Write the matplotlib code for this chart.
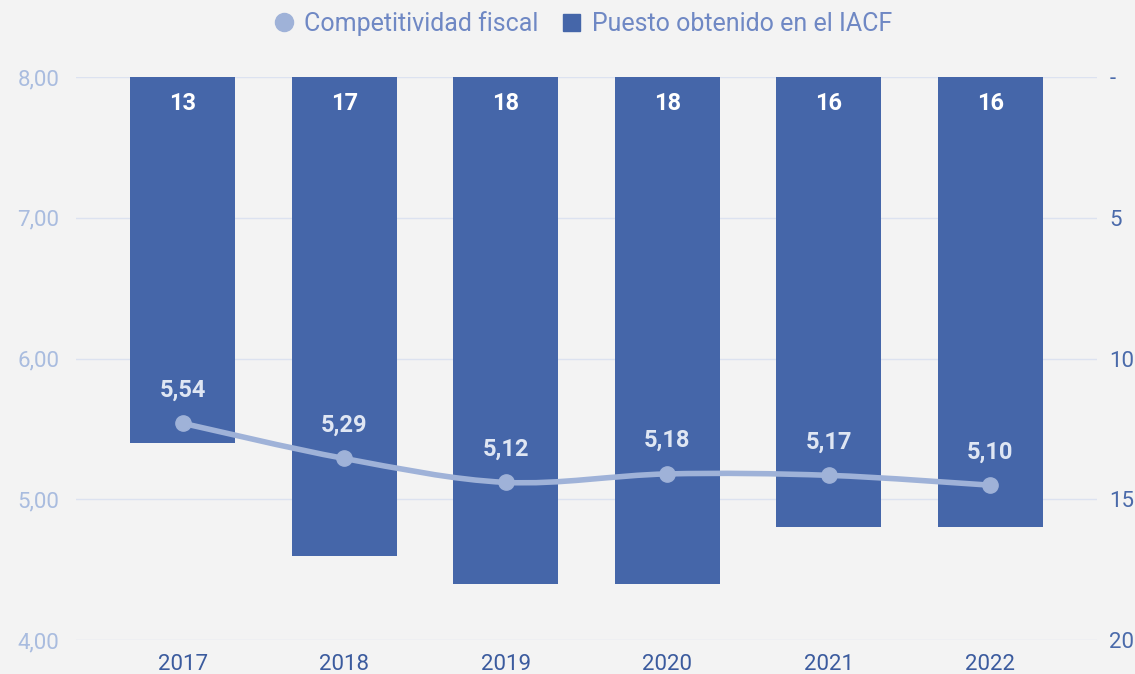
import numpy as np
import matplotlib.pyplot as plt
from matplotlib.path import Path
from matplotlib.patches import PathPatch
from matplotlib.lines import Line2D
from matplotlib.patches import Patch

# --- datos ---
years = ['2017', '2018', '2019', '2020', '2021', '2022']
competitividad = [5.54, 5.29, 5.12, 5.18, 5.17, 5.10]
puesto = [13, 17, 18, 18, 16, 16]
right_ticks = [0, 5, 10, 15, 20]
right_labels = ['-', '5', '10', '15', '20']

bg = '#f3f3f3'
bar_col = '#4566a9'
line_col = '#9fb2d8'

plt.rcParams['font.family'] = ['Roboto', 'DejaVu Sans']

fig = plt.figure(figsize=(11.35, 6.74), dpi=100, facecolor=bg)
ax = fig.add_axes([0.067, 0.0504, 0.8995, 0.8354])
ax.set_facecolor(bg)
ax2 = ax.twinx()

x = np.arange(len(years))

# barras en el eje derecho (invertido)
ax2.bar(x, puesto, width=0.65, color=bar_col, zorder=2)
ax2.set_ylim(20, 0)
ax2.set_yticks(right_ticks)
ax2.set_yticklabels(right_labels)
for xi, p in zip(x, puesto):
    ax2.annotate(str(p), (xi, 0), xytext=(0, -19), textcoords='offset points',
                 ha='center', va='center', color='white', fontsize=17, fontweight='bold')

# línea suavizada en el eje izquierdo (encima)
ax.set_zorder(ax2.get_zorder() + 1)
ax.patch.set_visible(False)
ax2.patch.set_visible(True)
ax2.patch.set_facecolor(bg)

verts = [(x[0], competitividad[0])]
codes = [Path.MOVETO]
n = len(x)
for i in range(n - 1):
    p0 = (x[max(i - 1, 0)], competitividad[max(i - 1, 0)])
    p1 = (x[i], competitividad[i])
    p2 = (x[i + 1], competitividad[i + 1])
    p3 = (x[min(i + 2, n - 1)], competitividad[min(i + 2, n - 1)])
    c1 = (p1[0] + (p2[0] - p0[0]) / 6, p1[1] + (p2[1] - p0[1]) / 6)
    c2 = (p2[0] - (p3[0] - p1[0]) / 6, p2[1] - (p3[1] - p1[1]) / 6)
    verts += [c1, c2, p2]
    codes += [Path.CURVE4] * 3
ax.add_patch(PathPatch(Path(verts, codes), fill=False, edgecolor=line_col, lw=4, zorder=3,
                       capstyle='round'))
ax.plot(x, competitividad, 'o', color=line_col, ms=11, zorder=4)
for xi, v in zip(x, competitividad):
    ax.annotate(f'{v:.2f}'.replace('.', ','), (xi, v), xytext=(0, 24), textcoords='offset points',
                ha='center', va='center', color='#dfe6f3', fontsize=17, fontweight='bold')

ax.set_ylim(4, 8)
ax.set_yticks([4, 5, 6, 7, 8])
ax.set_yticklabels(['4,00', '5,00', '6,00', '7,00', '8,00'])
ax.set_xlim(-0.66, 5.66)
ax.set_xticks(x)
ax.set_xticklabels(years)

for a in (ax, ax2):
    for s in a.spines.values():
        s.set_visible(False)
ax2.grid(False)
for v in [4, 5, 6, 7, 8]:
    ax2.axhline((8 - v) * 5, color='#dce2f0', lw=1, zorder=0)

ax.tick_params(axis='y', length=0, pad=12, labelsize=16, labelcolor='#a9bcdf')
ax.tick_params(axis='x', length=0, pad=10, labelsize=16, labelcolor='#3b5b9e')
ax2.tick_params(axis='y', length=0, pad=9, labelsize=16, labelcolor='#4a6aaa')

handles = [Line2D([], [], marker='o', ls='none', color=line_col, ms=13),
           Patch(color=bar_col)]
fig.legend(handles, ['Competitividad fiscal', 'Puesto obtenido en el IACF'],
           loc='center', bbox_to_anchor=(0.514, 0.965), ncol=2, frameon=False,
           fontsize=18, labelcolor='#6f88c4', handlelength=0.7, handletextpad=0.45,
           columnspacing=1.0)

fig.savefig('out.png', dpi=100, facecolor=bg)
